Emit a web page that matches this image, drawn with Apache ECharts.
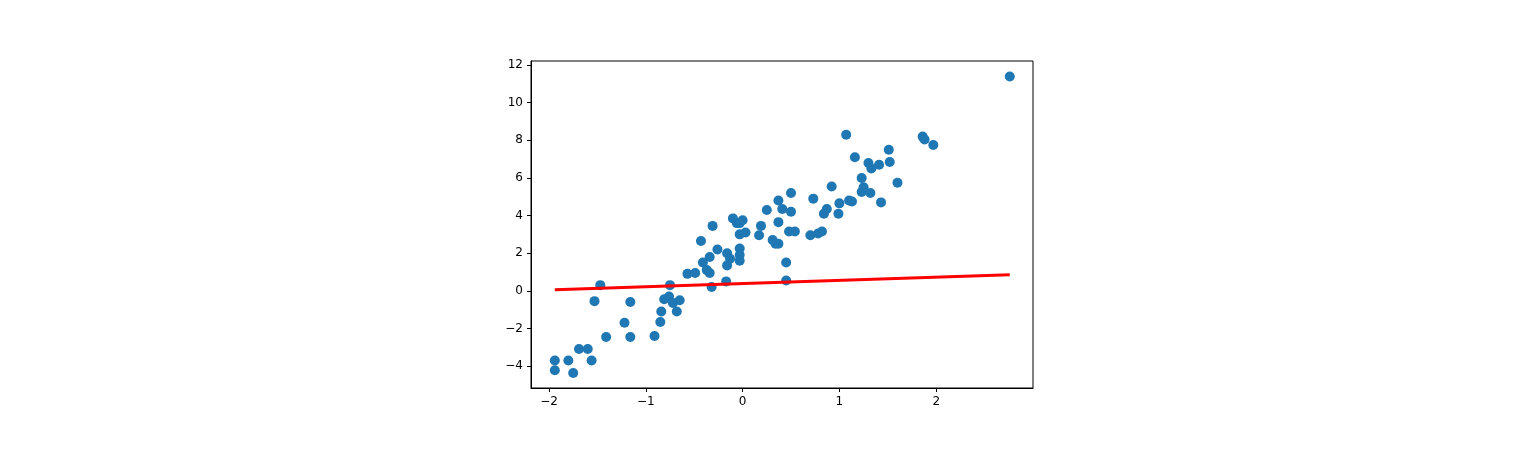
<!DOCTYPE html>
<html><head><meta charset="utf-8">
<script src="https://cdn.jsdelivr.net/npm/echarts@6/dist/echarts.min.js"></script>
<style>html,body{margin:0;background:#fff}#c{width:1529px;height:450px}</style>
</head><body><div id="c"></div>
<script>
const xs=[-1.94,-1.94,-1.80,-1.75,-1.69,-1.60,-1.56,-1.53,-1.47,-1.41,-1.22,-1.16,-1.16,-0.91,-0.85,-0.84,-0.81,-0.75,-0.76,-0.72,-0.68,-0.65,-0.57,-0.49,-0.43,-0.41,-0.37,-0.34,-0.31,-0.32,-0.34,-0.26,-0.17,-0.16,-0.16,-0.13,-0.10,-0.06,-0.03,-0.03,-0.03,-0.03,-0.03,0.0,0.03,0.17,0.19,0.25,0.31,0.34,0.37,0.37,0.37,0.41,0.45,0.45,0.50,0.50,0.48,0.54,0.70,0.73,0.78,0.82,0.84,0.87,0.92,0.99,1.0,1.07,1.10,1.13,1.16,1.23,1.23,1.25,1.30,1.33,1.32,1.41,1.43,1.51,1.52,1.60,1.86,1.88,1.97,2.76];
const ys=[-3.71,-4.23,-3.71,-4.37,-3.1,-3.1,-3.71,-0.55,0.3,-2.46,-1.7,-0.6,-2.46,-2.4,-1.66,-1.1,-0.45,0.3,-0.3,-0.65,-1.1,-0.5,0.9,0.95,2.65,1.5,1.1,1.8,3.45,0.2,0.95,2.2,0.5,2.0,1.35,1.7,3.85,3.6,3.6,3.0,2.25,1.9,1.6,3.75,3.1,2.95,3.45,4.3,2.7,2.5,2.5,3.65,4.8,4.35,1.5,0.55,5.2,4.2,3.15,3.15,2.95,4.9,3.05,3.15,4.1,4.35,5.55,4.1,4.65,8.3,4.8,4.75,7.1,5.25,6.0,5.5,6.8,6.5,5.2,6.7,4.7,7.5,6.85,5.75,8.2,8.05,7.75,11.4];
const lineX=[-1.94,2.76];
const lineY=[0.05,0.85];
const xTicks=[-2,-1,0,1,2];
const yTicks=[-4,-2,0,2,4,6,8,10,12];
const fmt=v=>String(v).replace('-','\u2212');
const ch=echarts.init(document.getElementById('c'));
const ax={axisLine:{show:true,onZero:false,lineStyle:{color:'#000'}},splitLine:{show:false},
 axisTick:{show:true,length:4,lineStyle:{color:'#000'}},axisLabel:{color:'#000',fontSize:12,fontFamily:'DejaVu Sans',formatter:fmt}};
ch.setOption({animation:false,
 grid:{left:531,right:496,top:61,bottom:62,show:true,borderColor:'#000',borderWidth:1},
 xAxis:Object.assign({type:'value',min:-2.186,max:3.0},ax,{axisTick:Object.assign({},ax.axisTick,{customValues:xTicks}),axisLabel:Object.assign({},ax.axisLabel,{customValues:xTicks,margin:8})}),
 yAxis:Object.assign({type:'value',min:-5.17,max:12.22},ax,{axisTick:Object.assign({},ax.axisTick,{customValues:yTicks}),axisLabel:Object.assign({},ax.axisLabel,{customValues:yTicks,margin:8})}),
 series:[
  {type:'scatter',data:xs.map((x,i)=>[x,ys[i]]),symbolSize:10,itemStyle:{color:'#1f77b4',opacity:1}},
  {type:'line',data:lineX.map((x,i)=>[x,lineY[i]]),symbol:'none',lineStyle:{color:'#ff0000',width:3}}
 ]});
</script></body></html>
